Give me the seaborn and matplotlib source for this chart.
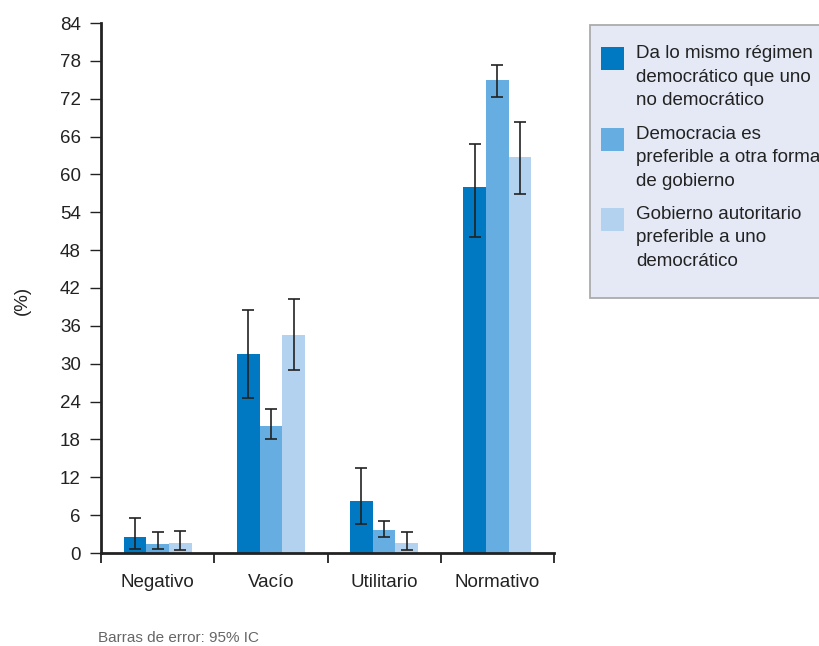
import numpy as np
import pandas as pd
import matplotlib.pyplot as plt
import seaborn as sns
from matplotlib.patches import Rectangle

# datos (porcentajes e IC 95%)
categorias = ['Negativo', 'Vacío', 'Utilitario', 'Normativo']
grupos = ['mismo', 'democracia', 'autoritario']
etiquetas = [
    'Da lo mismo régimen\ndemocrático que uno\nno democrático',
    'Democracia es\npreferible a otra forma\nde gobierno',
    'Gobierno autoritario\npreferible a uno\ndemocrático',
]

pct_mismo = [2.5, 31.5, 8.3, 58.0]
pct_democracia = [1.4, 20.2, 3.7, 74.9]
pct_autoritario = [1.6, 34.6, 1.6, 62.7]

ic_inf_mismo = [0.6, 24.6, 4.6, 50.1]
ic_sup_mismo = [5.5, 38.5, 13.4, 64.9]
ic_inf_democracia = [0.7, 18.0, 2.5, 72.2]
ic_sup_democracia = [3.3, 22.8, 5.0, 77.4]
ic_inf_autoritario = [0.5, 29.0, 0.5, 56.9]
ic_sup_autoritario = [3.5, 40.2, 3.3, 68.3]

colores = ['#0079C2', '#66AEE1', '#B3D2EF']

df = pd.DataFrame({
    'categoria': categorias * 3,
    'grupo': np.repeat(grupos, 4),
    'pct': pct_mismo + pct_democracia + pct_autoritario,
})
ic_inf = [ic_inf_mismo, ic_inf_democracia, ic_inf_autoritario]
ic_sup = [ic_sup_mismo, ic_sup_democracia, ic_sup_autoritario]

sns.set_style("ticks")
plt.rcParams['font.family'] = ['Liberation Sans', 'DejaVu Sans']
texto = '#222222'

fig = plt.figure(figsize=(8.19, 6.46), dpi=100)
ax = fig.add_subplot(111)
fig.subplots_adjust(left=101 / 819, right=554 / 819, top=1 - 23 / 646, bottom=1 - 553 / 646)

sns.barplot(data=df, x='categoria', y='pct', hue='grupo', order=categorias,
            hue_order=grupos, palette=colores, width=0.6, errorbar=None,
            saturation=1, legend=False, linewidth=0, ax=ax)

# barras de error a partir de las barras dibujadas
contenedores = list(ax.containers)
for k, cont in enumerate(contenedores):
    for j, barra in enumerate(cont):
        xc = barra.get_x() + barra.get_width() / 2
        h = barra.get_height()
        ax.errorbar(xc, h, yerr=[[h - ic_inf[k][j]], [ic_sup[k][j] - h]],
                    fmt='none', ecolor=texto, elinewidth=1.2, capsize=4, capthick=1.2)

ax.set_xlim(-0.5, 3.5)
ax.set_ylim(0, 84)
ax.set_yticks(np.arange(0, 85, 6))
ax.set_xticks(np.arange(-0.5, 3.6, 1), minor=True)
ax.tick_params(axis='x', which='major', length=0, pad=15, labelsize=13.5, labelcolor=texto)
ax.tick_params(axis='x', which='minor', length=7, width=1.3, direction='out', color=texto)
ax.tick_params(axis='y', length=8, width=1, pad=6.5, labelsize=13.5, labelcolor=texto, color=texto)
for lado in ['left', 'bottom']:
    ax.spines[lado].set_linewidth(2)
    ax.spines[lado].set_color(texto)
sns.despine(ax=ax)

ax.set_xlabel('')
ax.set_ylabel('(%)', fontsize=13.5, color=texto)
ax.yaxis.set_label_coords(-0.155, 0.477)

# leyenda manual (cuadro con los cuadrados alineados arriba)
def px(x, y):
    return x / 819, 1 - y / 646

x0, y0 = px(590, 298)
fig.add_artist(Rectangle((x0, y0), (840 - 590) / 819, (298 - 25) / 646,
                         transform=fig.transFigure, facecolor='#E4E9F5',
                         edgecolor='#ABABAB', lw=1.3))
for tops, col, lab in zip([47, 128, 208], colores, etiquetas):
    sx, sy = px(601, tops + 23)
    fig.add_artist(Rectangle((sx, sy), 23 / 819, 23 / 646, transform=fig.transFigure,
                             facecolor=col, edgecolor='none'))
    tx, ty = px(636, tops - 2)
    fig.text(tx, ty, lab, fontsize=13.5, color=texto, va='top', ha='left', linespacing=1.5)

fx, fy = px(98, 638)
fig.text(fx, fy, 'Barras de error: 95% IC', fontsize=11, color='#666666', va='center', ha='left')

fig.savefig('out.png', dpi=100)
